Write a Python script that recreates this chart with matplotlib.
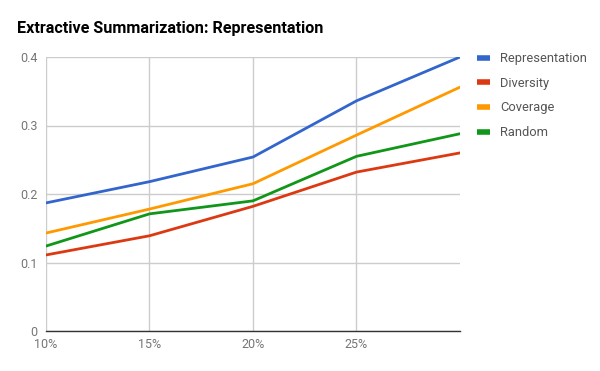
import matplotlib
matplotlib.use('Agg')
import matplotlib.pyplot as plt

plt.rcParams['font.family'] = ['Roboto', 'DejaVu Sans']

# sample size (fraction of text) and scores per method
sizes = [0.10, 0.15, 0.20, 0.25, 0.30]
tick_pos = [0.10, 0.15, 0.20, 0.25]
tick_labels = ['10%', '15%', '20%', '25%']
representation = [0.187, 0.218, 0.254, 0.336, 0.400]
diversity = [0.111, 0.139, 0.182, 0.232, 0.260]
coverage = [0.143, 0.178, 0.215, 0.286, 0.356]
random_ = [0.124, 0.171, 0.190, 0.255, 0.288]

series = [
    ('Representation', representation, '#3366cc'),
    ('Diversity', diversity, '#dc3912'),
    ('Coverage', coverage, '#ff9900'),
    ('Random', random_, '#109618'),
]

fig = plt.figure(figsize=(6.0, 3.71), dpi=100)
ax = fig.add_axes([46 / 600, 1 - 331 / 371, 414 / 600, 274 / 371])

for name, vals, col in series:
    ax.plot(sizes, vals, color=col, lw=2, label=name, solid_capstyle='round')

ax.set_xlim(0.10, 0.30)
ax.set_ylim(0, 0.4)
ax.set_yticks([0, 0.1, 0.2, 0.3, 0.4])
ax.set_yticklabels(['0', '0.1', '0.2', '0.3', '0.4'])
ax.set_xticks(tick_pos)
ax.set_xticklabels(tick_labels)
ax.grid(True, color='#cccccc', lw=1)
ax.set_axisbelow(True)
for s in ['top', 'right', 'left']:
    ax.spines[s].set_visible(False)
ax.spines['bottom'].set_color('#333333')
ax.spines['bottom'].set_linewidth(1)
ax.tick_params(length=0, labelsize=9, colors='#757575')
ax.tick_params(axis='y', pad=6)
ax.tick_params(axis='x', pad=5)

fig.text(17 / 600, 1 - 28 / 371, 'Extractive Summarization: Representation',
         fontsize=11.6, fontweight='bold', va='center', ha='left', color='#000000')

leg = ax.legend(loc='upper left', bbox_to_anchor=(472 / 600, 1 - 47 / 371),
                bbox_transform=fig.transFigure, frameon=False, fontsize=9.3,
                handlelength=1.0, handletextpad=0.8, labelspacing=0.9,
                borderaxespad=0)
for t in leg.get_texts():
    t.set_color('#555555')
for h in leg.get_lines():
    h.set_linewidth(4)
    h.set_solid_capstyle('butt')

fig.savefig('out.png', dpi=100)
